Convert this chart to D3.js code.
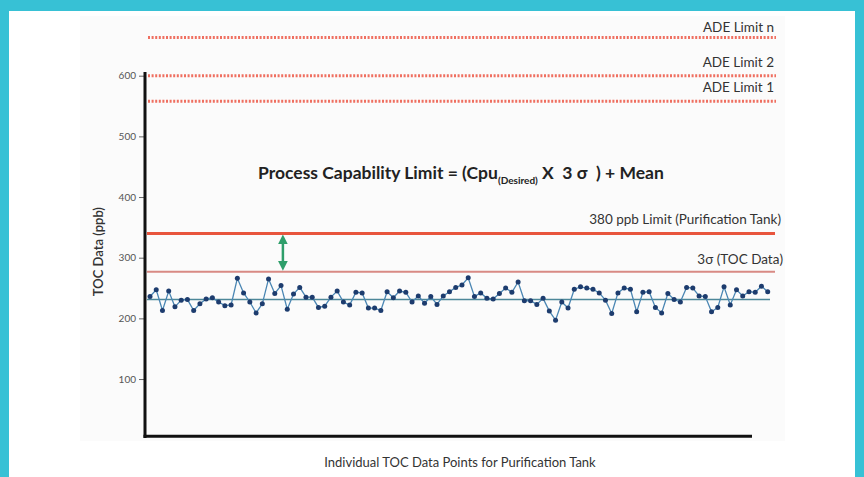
<!DOCTYPE html>
<html><head><meta charset="utf-8">
<script src="https://cdn.jsdelivr.net/npm/d3@7/dist/d3.min.js"></script>
<style>html,body{margin:0;padding:0;background:#fff;}svg{display:block;font-family:Lato,"Open Sans",sans-serif;}</style>
</head><body>
<svg id="c" width="864" height="477"></svg>
<script>
const tocValues = [236,247,213,245,219,230,231,213,224,232,234,227,221,222,266,242,227,209,224,265,241,254,215,240,251,235,235,218,220,235,245,227,222,243,242,217,217,213,244,234,245,243,227,237,225,236,223,237,244,251,255,267,236,242,233,232,241,250,243,260,229,229,223,233,212,197,227,217,248,252,250,248,242,230,208,242,250,248,211,243,244,218,209,241,231,227,251,250,237,236,211,218,252,222,247,237,244,243,253,244];
const yTicks = [100,200,300,400,500,600];
const meanValue = 231;
const sigmaValue = 277;
const tankLimit = 340;
const adeLimits = [558,600,663];
const adeLabels = ["ADE Limit 1","ADE Limit 2","ADE Limit n"];
const tankLabel = "380 ppb Limit (Purification Tank)";
const sigmaLabel = "3σ (TOC Data)";
const yTitle = "TOC Data (ppb)";
const xTitle = "Individual TOC Data Points for Purification Tank";

const svg = d3.select("#c");
// frame
svg.append("rect").attr("x",0).attr("y",0).attr("width",864).attr("height",477).attr("fill","#37c1d5");
svg.append("rect").attr("x",9).attr("y",11).attr("width",846).attr("height",470).attr("fill","#ffffff");
svg.append("rect").attr("x",80).attr("y",16).attr("width",705).attr("height",425).attr("fill","#fbfbfb");

const y = d3.scaleLinear().domain([0,600]).range([439.7,75.7]);
const x = d3.scaleLinear().domain([0,tocValues.length-1]).range([150,767.7]);

const labelFont = 13.5;
// ADE dotted lines
adeLimits.forEach((v,i)=>{
  svg.append("line").attr("x1",148).attr("x2",776).attr("y1",y(v)).attr("y2",y(v))
    .attr("stroke","#ef6f60").attr("stroke-width",3).attr("stroke-dasharray","2,1.6");
  svg.append("text").attr("x",774).attr("y",y(v)-(i===2?5:9)).attr("text-anchor","end")
    .attr("font-size",labelFont).attr("fill","#333").text(adeLabels[i]);
});

// Tank limit
svg.append("line").attr("x1",147).attr("x2",775).attr("y1",y(tankLimit)).attr("y2",y(tankLimit))
  .attr("stroke","#e8553d").attr("stroke-width",3);
svg.append("text").attr("x",781).attr("y",y(tankLimit)-9).attr("text-anchor","end")
  .attr("font-size",labelFont).attr("fill","#333").text(tankLabel);
// 3 sigma
svg.append("line").attr("x1",147).attr("x2",775).attr("y1",y(sigmaValue)).attr("y2",y(sigmaValue))
  .attr("stroke","#d88a84").attr("stroke-width",2);
svg.append("text").attr("x",783).attr("y",y(sigmaValue)-8).attr("text-anchor","end")
  .attr("font-size",labelFont).attr("fill","#333").text(sigmaLabel);
// mean
svg.append("line").attr("x1",147).attr("x2",770).attr("y1",y(meanValue)).attr("y2",y(meanValue))
  .attr("stroke","#4d8799").attr("stroke-width",1.5);

// green arrow
const ax = x(21.3);
const defs = svg.append("defs");
defs.append("marker").attr("id","ah").attr("viewBox","0 0 10 10").attr("refX",5).attr("refY",5)
  .attr("markerWidth",4).attr("markerHeight",4).attr("orient","auto-start-reverse")
  .append("path").attr("d","M0,0L10,5L0,10z").attr("fill","#2e9e6a");
svg.append("line").attr("x1",ax).attr("x2",ax).attr("y1",y(tankLimit)+6).attr("y2",y(sigmaValue)-6)
  .attr("stroke","#2e9e6a").attr("stroke-width",2.5)
  .attr("marker-start","url(#ah)").attr("marker-end","url(#ah)");

// data
const line = d3.line().x((d,i)=>x(i)).y(d=>y(d));
svg.append("path").datum(tocValues).attr("d",line).attr("fill","none")
  .attr("stroke","#4a86b3").attr("stroke-width",1.3);
svg.selectAll("circle.p").data(tocValues).enter().append("circle")
  .attr("cx",(d,i)=>x(i)).attr("cy",d=>y(d)).attr("r",2.5).attr("fill","#1d3c6e");

// axes
const yAxis = d3.axisLeft(y).tickValues(yTicks).tickSize(6).tickPadding(3);
const gy = svg.append("g").attr("transform","translate(145,0)").call(yAxis);
gy.select(".domain").remove();
gy.selectAll(".tick line").attr("stroke","#666");
gy.selectAll(".tick text").attr("font-size",10).attr("fill","#555").attr("font-family","Lato,'Open Sans',sans-serif");
svg.append("line").attr("x1",145).attr("x2",145).attr("y1",y(606)).attr("y2",y(3))
  .attr("stroke","#111").attr("stroke-width",3);
svg.append("line").attr("x1",143.5).attr("x2",752).attr("y1",y(5.5)).attr("y2",y(5.5))
  .attr("stroke","#111").attr("stroke-width",3);

// titles
svg.append("text").attr("transform",`translate(103,${y(310)}) rotate(-90)`).attr("text-anchor","middle")
  .attr("font-size",13).attr("font-weight","600").attr("fill","#333").text(yTitle);
svg.append("text").attr("x",460).attr("y",467).attr("text-anchor","middle")
  .attr("font-size",13).attr("fill","#333").text(xTitle);

const t = svg.append("text").attr("x",258).attr("y",179).attr("font-size",17.5).attr("font-weight","bold")
  .attr("fill","#222").attr("xml:space","preserve");
t.append("tspan").text("Process Capability Limit = (Cpu");
t.append("tspan").attr("font-size",10).attr("dy",5).text("(Desired)");
t.append("tspan").attr("dy",-5).text("\u00a0X\u00a0\u00a03\u00a0σ\u00a0\u00a0) + Mean");
</script>
</body></html>
